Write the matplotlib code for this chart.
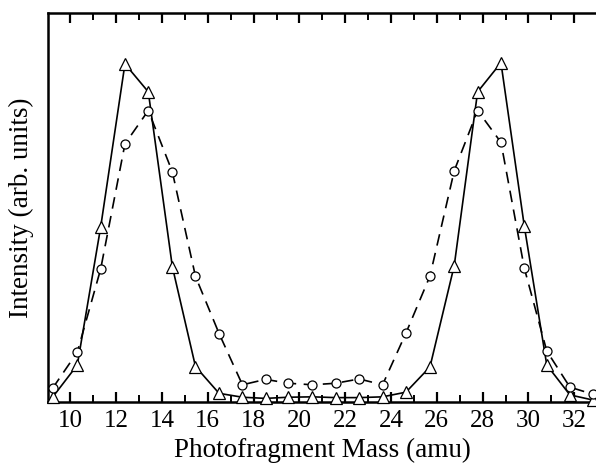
import matplotlib
matplotlib.use("Agg")
import matplotlib.pyplot as plt
from matplotlib.ticker import MultipleLocator

# Photofragment mass positions (amu) of the measured points
mass = [9.22, 10.30, 11.32, 12.38, 13.40, 14.45, 15.46, 16.49, 17.51, 18.52,
        19.51, 20.57, 21.58, 22.61, 23.63, 24.65, 25.70, 26.76, 27.78, 28.80,
        29.82, 30.80, 31.81, 32.80]

# Triangle series (solid line)
tri_intensity = [0.011, 0.094, 0.449, 0.869, 0.797, 0.347, 0.090, 0.021, 0.011, 0.008,
                 0.011, 0.012, 0.010, 0.010, 0.012, 0.024, 0.089, 0.350, 0.797, 0.872,
                 0.451, 0.094, 0.017, 0.004]

# Circle series (dashed line)
circ_intensity = [0.034, 0.127, 0.341, 0.663, 0.749, 0.591, 0.322, 0.175, 0.043, 0.057,
                  0.047, 0.043, 0.047, 0.058, 0.043, 0.176, 0.323, 0.594, 0.749, 0.667,
                  0.343, 0.130, 0.037, 0.019]

x_ticks = [10, 12, 14, 16, 18, 20, 22, 24, 26, 28, 30, 32]

plt.rcParams['font.family'] = ['Liberation Serif', 'DejaVu Serif']

W, H = 596, 468
fig = plt.figure(figsize=(W / 100, H / 100), dpi=100)
left, right, top, bottom = 48, 596, 13, 401.5
ax = fig.add_axes([left / W, (H - bottom) / H, (right - left) / W, (bottom - top) / H])

ax.plot(mass, tri_intensity, '-', color='black', lw=1.2,
        marker='^', markersize=8, markerfacecolor='white', markeredgecolor='black',
        markeredgewidth=0.9, clip_on=False, zorder=3)
ax.plot(mass, circ_intensity, '--', color='black', lw=1.2, dashes=(7, 4.5),
        marker='o', markersize=6.5, markerfacecolor='white', markeredgecolor='black',
        markeredgewidth=0.9, clip_on=False, zorder=3)

ax.set_xlim(9.02, 32.95)
ax.set_ylim(0, 1)

ax.set_xticks(x_ticks)
ax.xaxis.set_minor_locator(MultipleLocator(1))
ax.set_yticks([])
ax.tick_params(axis='x', which='major', direction='in', top=True, bottom=True,
               length=7, width=1.6, labelsize=18, pad=6)
ax.tick_params(axis='x', which='minor', direction='in', top=True, bottom=True,
               length=5, width=1.4)

for side in ['left', 'bottom', 'top']:
    ax.spines[side].set_linewidth(1.8)
ax.spines['right'].set_visible(False)

ax.set_xlabel('Photofragment Mass (amu)', fontsize=19.5, labelpad=4)
ax.set_ylabel('Intensity (arb. units)', fontsize=19.5, labelpad=10)

fig.savefig('out.png', dpi=100)
